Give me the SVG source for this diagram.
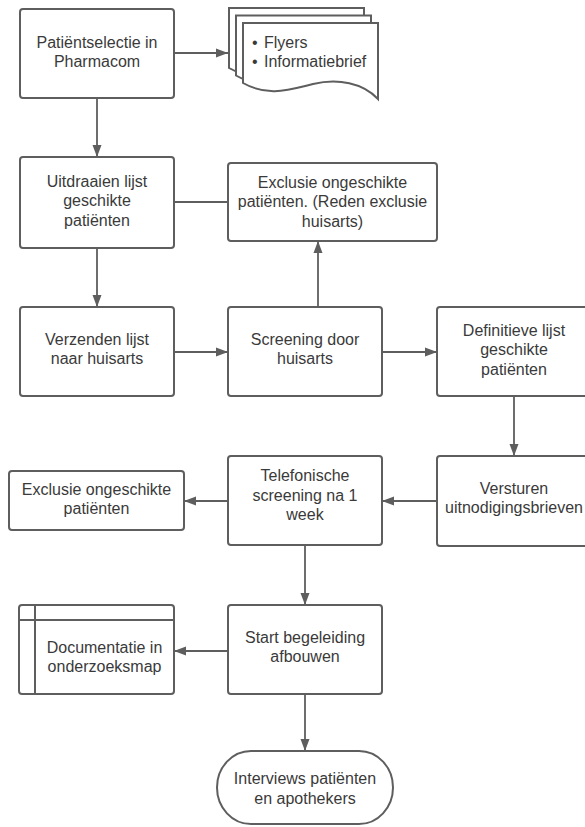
<svg xmlns="http://www.w3.org/2000/svg" width="585" height="827" viewBox="0 0 585 827">
  <style>
    .box { fill: #ffffff; stroke: #5e5e5e; stroke-width: 2; }
    .lbl { font-family: "Liberation Sans", Arial, sans-serif; font-size: 16px; fill: #3a3a3a; text-anchor: middle; }
    .lbl-l { font-family: "Liberation Sans", Arial, sans-serif; font-size: 16px; fill: #3a3a3a; }
    .edge { fill: none; stroke: #5e5e5e; stroke-width: 1.8; }
  </style>
  <defs>
    <marker id="arrow" markerUnits="userSpaceOnUse" markerWidth="14" markerHeight="12" refX="13" refY="6" orient="auto">
      <path d="M1,1.5 L13,6 L1,10.5 Z" fill="#5e5e5e"/>
    </marker>
    <!-- single sheet of the document stack, origin at its top-left corner -->
    <path id="sheet" d="M0,0 H135 V76 C120,60 95,55 70,61 C45,67 25,74 0,60 Z"/>
  </defs>

  <rect x="0" y="0" width="585" height="827" fill="#ffffff"/>

  <!-- connectors -->
  <g id="connectors">
    <path class="edge" d="M174,53 H228" marker-end="url(#arrow)"/>
    <path class="edge" d="M97,98 V157" marker-end="url(#arrow)"/>
    <path class="edge" d="M174,202 H228"/>
    <path class="edge" d="M97,248 V307" marker-end="url(#arrow)"/>
    <path class="edge" d="M174,352 H228" marker-end="url(#arrow)"/>
    <path class="edge" d="M318,307 V241" marker-end="url(#arrow)"/>
    <path class="edge" d="M382,352 H437" marker-end="url(#arrow)"/>
    <path class="edge" d="M514,396 V456" marker-end="url(#arrow)"/>
    <path class="edge" d="M437,501 H382" marker-end="url(#arrow)"/>
    <path class="edge" d="M228,501 H184" marker-end="url(#arrow)"/>
    <path class="edge" d="M305,545 V605" marker-end="url(#arrow)"/>
    <path class="edge" d="M228,651 H174" marker-end="url(#arrow)"/>
    <path class="edge" d="M305,694 V751" marker-end="url(#arrow)"/>
  </g>

  <g id="pharmacom">
    <rect class="box" x="20" y="9" width="154" height="89" rx="3"/>
    <text class="lbl" x="97" y="47.5">Patiëntselectie in</text>
    <text class="lbl" x="97" y="66.5">Pharmacom</text>
  </g>

  <g id="documents">
    <use href="#sheet" class="box" x="229" y="8"/>
    <use href="#sheet" class="box" x="236" y="15.5"/>
    <use href="#sheet" class="box" x="243" y="23"/>
    <text class="lbl-l" x="252" y="48">•</text>
    <text class="lbl-l" x="264" y="48">Flyers</text>
    <text class="lbl-l" x="252" y="67">•</text>
    <text class="lbl-l" x="264" y="67">Informatiebrief</text>
  </g>

  <g id="uitdraaien">
    <rect class="box" x="20" y="157" width="154" height="91" rx="3"/>
    <text class="lbl" x="97" y="186.5">Uitdraaien lijst</text>
    <text class="lbl" x="97" y="206">geschikte</text>
    <text class="lbl" x="97" y="225.5">patiënten</text>
  </g>

  <g id="exclusie-huisarts">
    <rect class="box" x="228" y="163" width="209" height="78" rx="3"/>
    <text class="lbl" x="332.5" y="187.5">Exclusie ongeschikte</text>
    <text class="lbl" x="332.5" y="207">patiënten. (Reden exclusie</text>
    <text class="lbl" x="332.5" y="226.5">huisarts)</text>
  </g>

  <g id="verzenden">
    <rect class="box" x="20" y="307" width="154" height="89" rx="3"/>
    <text class="lbl" x="97" y="345">Verzenden lijst</text>
    <text class="lbl" x="97" y="364">naar huisarts</text>
  </g>

  <g id="screening">
    <rect class="box" x="228" y="307" width="154" height="89" rx="3"/>
    <text class="lbl" x="305" y="345">Screening door</text>
    <text class="lbl" x="305" y="364">huisarts</text>
  </g>

  <g id="definitieve">
    <rect class="box" x="437" y="307" width="154" height="89" rx="3"/>
    <text class="lbl" x="514" y="335.5">Definitieve lijst</text>
    <text class="lbl" x="514" y="355">geschikte</text>
    <text class="lbl" x="514" y="374.5">patiënten</text>
  </g>

  <g id="versturen">
    <rect class="box" x="437" y="456" width="154" height="90" rx="3"/>
    <text class="lbl" x="514" y="493.5">Versturen</text>
    <text class="lbl" x="514" y="513">uitnodigingsbrieven</text>
  </g>

  <g id="telefonisch">
    <rect class="box" x="228" y="456" width="154" height="89" rx="3"/>
    <text class="lbl" x="305" y="481">Telefonische</text>
    <text class="lbl" x="305" y="500.5">screening na 1</text>
    <text class="lbl" x="305" y="520">week</text>
  </g>

  <g id="exclusie-telefonisch">
    <rect class="box" x="9" y="471" width="175" height="59" rx="3"/>
    <text class="lbl" x="96.5" y="494.5">Exclusie ongeschikte</text>
    <text class="lbl" x="96.5" y="514">patiënten</text>
  </g>

  <g id="documentatie">
    <rect class="box" x="19" y="605" width="155" height="89" rx="3"/>
    <path class="edge" d="M19,620 H174 M35,605 V694" style="stroke-width:2"/>
    <text class="lbl" x="104.5" y="653">Documentatie in</text>
    <text class="lbl" x="104.5" y="672">onderzoeksmap</text>
  </g>

  <g id="afbouwen">
    <rect class="box" x="228" y="605" width="154" height="89" rx="3"/>
    <text class="lbl" x="305" y="643">Start begeleiding</text>
    <text class="lbl" x="305" y="662">afbouwen</text>
  </g>

  <g id="interviews">
    <rect class="box" x="217" y="751" width="176" height="73" rx="34" ry="36.5"/>
    <text class="lbl" x="305" y="784">Interviews patiënten</text>
    <text class="lbl" x="305" y="803.5">en apothekers</text>
  </g>
</svg>
